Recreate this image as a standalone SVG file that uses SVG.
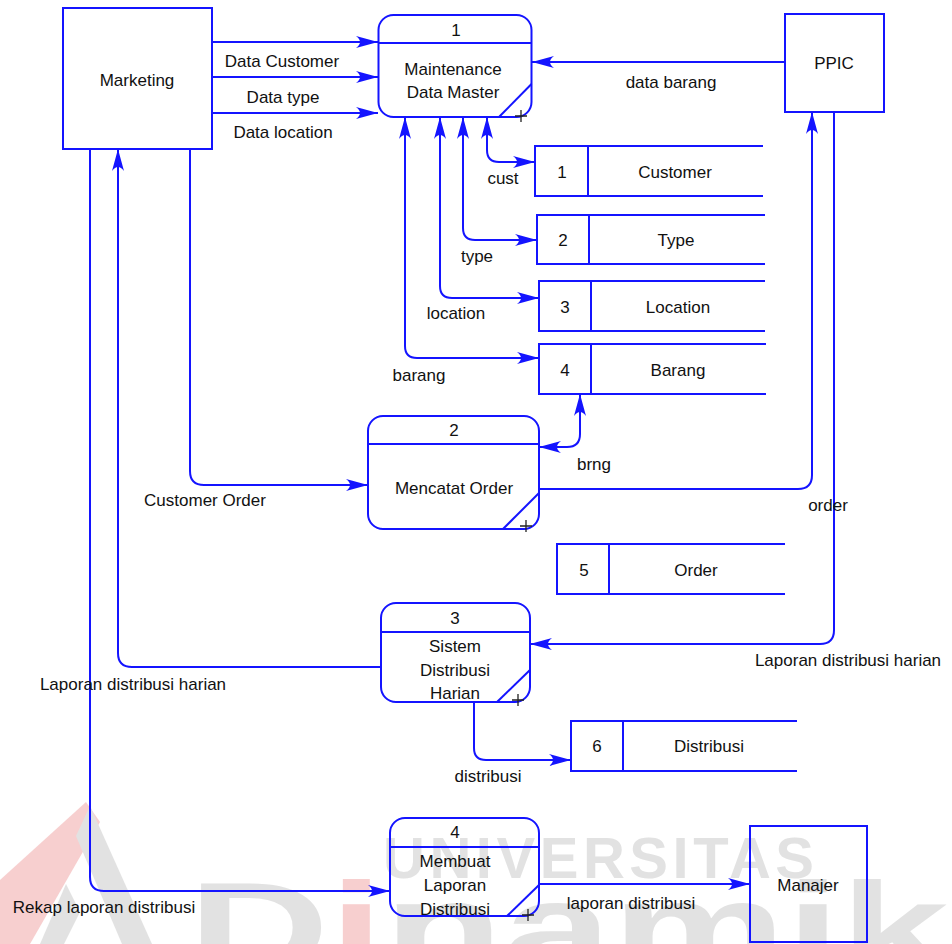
<svg xmlns="http://www.w3.org/2000/svg" width="952" height="944" viewBox="0 0 952 944">
  <style>
    .lbl { font-family: "Liberation Sans", Arial, sans-serif; font-size: 17px; fill: #111; text-anchor: middle; }
    .box { fill: none; stroke: #1414ff; stroke-width: 2; }
    .proc { fill: none; stroke: #1414ff; stroke-width: 2; }
    .store { fill: none; stroke: #1414ff; stroke-width: 2; }
    .flow { fill: none; stroke: #1414ff; stroke-width: 2; }
    .plus { stroke: #222; stroke-width: 1.3; fill: none; }
    .wm { font-family: "Liberation Sans", Arial, sans-serif; font-weight: bold; fill: #dcdcdc; }
    .wmred { fill: #f6c4c4; }
  </style>
  <defs>
    <marker id="arrow" markerUnits="userSpaceOnUse" markerWidth="24" markerHeight="14" refX="22" refY="7" orient="auto-start-reverse">
      <path d="M0,1 Q8,7 0,13 L22,7 Z" fill="#1414ff"/>
    </marker>
  </defs>

  <rect width="952" height="944" fill="#ffffff"/>

  <!-- background logo and lettering -->
  <g id="watermark" opacity="0.8">
    <polygon class="wmred" points="86,802 100,822 30,944 0,944 0,880"/>
    <polygon fill="#dcdcdc" points="90,806 152,944 122,944 76,836"/>
    <polygon fill="#dcdcdc" points="66,884 40,944 64,944 80,912"/>
    <text class="wm" x="383" y="878" font-size="58" textLength="431" lengthAdjust="spacing">UNIVERSITAS</text>
    <text class="wm" x="188" y="973" font-size="130" textLength="870" lengthAdjust="spacingAndGlyphs">D<tspan class="wmred">i</tspan>namik<tspan class="wmred">a</tspan></text>
  </g>

  <!-- external entities -->
  <g id="marketing">
    <rect class="box" x="63" y="8" width="149" height="141"/>
    <text class="lbl" x="137" y="86">Marketing</text>
  </g>
  <g id="ppic">
    <rect class="box" x="785" y="14" width="99" height="98"/>
    <text class="lbl" x="834" y="69">PPIC</text>
  </g>
  <g id="manajer">
    <rect class="box" x="750" y="826" width="117" height="116"/>
    <text class="lbl" x="808" y="891">Manajer</text>
  </g>

  <!-- processes -->
  <g id="proc1">
    <rect class="proc" x="378.5" y="15" width="153" height="102" rx="15"/>
    <line class="proc" x1="378.5" y1="43" x2="531.5" y2="43"/>
    <line class="proc" x1="499" y1="117" x2="531.5" y2="84"/>
    <path class="plus" d="M515,116 H527 M521,110 V122"/>
    <text class="lbl" x="456" y="36">1</text>
    <text class="lbl" x="453" y="75">Maintenance</text>
    <text class="lbl" x="453" y="98">Data Master</text>
  </g>
  <g id="proc2">
    <rect class="proc" x="368" y="416" width="171" height="113" rx="15"/>
    <line class="proc" x1="368" y1="444" x2="539" y2="444"/>
    <line class="proc" x1="503" y1="529" x2="539" y2="493"/>
    <path class="plus" d="M520,526 H532 M526,520 V532"/>
    <text class="lbl" x="454" y="436">2</text>
    <text class="lbl" x="454" y="494">Mencatat Order</text>
  </g>
  <g id="proc3">
    <rect class="proc" x="381" y="603" width="149" height="99" rx="15"/>
    <line class="proc" x1="381" y1="632" x2="530" y2="632"/>
    <line class="proc" x1="497" y1="702" x2="530" y2="670"/>
    <path class="plus" d="M512,700 H524 M518,694 V706"/>
    <text class="lbl" x="455" y="624">3</text>
    <text class="lbl" x="455" y="652">Sistem</text>
    <text class="lbl" x="455" y="676">Distribusi</text>
    <text class="lbl" x="455" y="699">Harian</text>
  </g>
  <g id="proc4">
    <rect class="proc" x="390" y="818" width="149" height="98" rx="15"/>
    <line class="proc" x1="390" y1="847" x2="539" y2="847"/>
    <line class="proc" x1="507" y1="916" x2="539" y2="885"/>
    <path class="plus" d="M522,915 H534 M528,909 V921"/>
    <text class="lbl" x="455" y="838">4</text>
    <text class="lbl" x="455" y="867">Membuat</text>
    <text class="lbl" x="455" y="891">Laporan</text>
    <text class="lbl" x="455" y="915">Distribusi</text>
  </g>

  <!-- data stores -->
  <g id="store1">
    <path class="store" d="M763,146 H535 V196 H763 M588,146 V196"/>
    <text class="lbl" x="562" y="178">1</text>
    <text class="lbl" x="675" y="178">Customer</text>
  </g>
  <g id="store2">
    <path class="store" d="M765,215 H537 V264 H765 M589,215 V264"/>
    <text class="lbl" x="563" y="246">2</text>
    <text class="lbl" x="676" y="246">Type</text>
  </g>
  <g id="store3">
    <path class="store" d="M765,281 H539 V331 H765 M591,281 V331"/>
    <text class="lbl" x="565" y="313">3</text>
    <text class="lbl" x="678" y="313">Location</text>
  </g>
  <g id="store4">
    <path class="store" d="M766,344 H539 V394 H766 M591,344 V394"/>
    <text class="lbl" x="565" y="376">4</text>
    <text class="lbl" x="678" y="376">Barang</text>
  </g>
  <g id="store5">
    <path class="store" d="M785,544 H557 V594 H785 M609,544 V594"/>
    <text class="lbl" x="584" y="576">5</text>
    <text class="lbl" x="696" y="576">Order</text>
  </g>
  <g id="store6">
    <path class="store" d="M797,721 H571 V771 H797 M623,721 V771"/>
    <text class="lbl" x="597" y="752">6</text>
    <text class="lbl" x="709" y="752">Distribusi</text>
  </g>

  <!-- data flows -->
  <g id="flows">
    <path class="flow" d="M212,42 H378" marker-end="url(#arrow)"/>
    <path class="flow" d="M212,77 H378" marker-end="url(#arrow)"/>
    <path class="flow" d="M212,113 H378" marker-end="url(#arrow)"/>
    <path class="flow" d="M785,62 H532" marker-end="url(#arrow)"/>

    <path class="flow" d="M487,117 V150 Q487,162 499,162 H535" marker-start="url(#arrow)" marker-end="url(#arrow)"/>
    <path class="flow" d="M463,117 V228 Q463,240 475,240 H537" marker-start="url(#arrow)" marker-end="url(#arrow)"/>
    <path class="flow" d="M440,117 V286 Q440,298 452,298 H539" marker-start="url(#arrow)" marker-end="url(#arrow)"/>
    <path class="flow" d="M405,117 V346 Q405,358 417,358 H539" marker-start="url(#arrow)" marker-end="url(#arrow)"/>

    <path class="flow" d="M580,394 V434 Q580,447 567,447 H539" marker-start="url(#arrow)" marker-end="url(#arrow)"/>
    <path class="flow" d="M539,489 H798 Q812,489 812,475 V112" marker-end="url(#arrow)"/>
    <path class="flow" d="M834,112 V630 Q834,644 820,644 H530" marker-end="url(#arrow)"/>
    <path class="flow" d="M381,667 H132 Q118,667 118,653 V149" marker-end="url(#arrow)"/>
    <path class="flow" d="M90,149 V877 Q90,891 104,891 H390" marker-end="url(#arrow)"/>
    <path class="flow" d="M190,149 V471 Q190,485 204,485 H368" marker-end="url(#arrow)"/>
    <path class="flow" d="M474,702 V748 Q474,760 486,760 H571" marker-end="url(#arrow)"/>
    <path class="flow" d="M539,884 H750" marker-end="url(#arrow)"/>

    <text class="lbl" x="282" y="67">Data Customer</text>
    <text class="lbl" x="283" y="103">Data type</text>
    <text class="lbl" x="283" y="138">Data location</text>
    <text class="lbl" x="671" y="88">data barang</text>
    <text class="lbl" x="503" y="184">cust</text>
    <text class="lbl" x="477" y="262">type</text>
    <text class="lbl" x="456" y="319">location</text>
    <text class="lbl" x="419" y="381">barang</text>
    <text class="lbl" x="594" y="470">brng</text>
    <text class="lbl" x="828" y="511">order</text>
    <text class="lbl" x="205" y="506">Customer Order</text>
    <text class="lbl" x="848" y="666">Laporan distribusi harian</text>
    <text class="lbl" x="133" y="690">Laporan distribusi harian</text>
    <text class="lbl" x="488" y="782">distribusi</text>
    <text class="lbl" x="104" y="913">Rekap laporan distribusi</text>
    <text class="lbl" x="631" y="909">laporan distribusi</text>
  </g>
</svg>
